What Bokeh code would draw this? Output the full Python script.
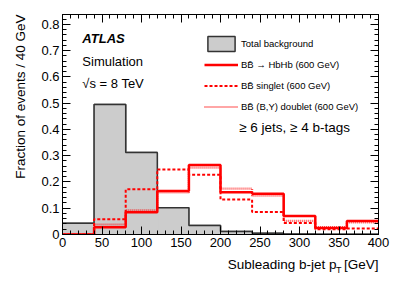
import math
from bokeh.plotting import figure
from bokeh.models import (Range1d, LinearAxis, SingleIntervalTicker, Label,
                          Legend, LegendItem, Title, ColumnDataSource,
                          CustomJSTickFormatter)
from bokeh.embed import file_html
from bokeh.resources import INLINE

# ---- data (fraction of events per 40 GeV bin) ----
bin_edges = [0, 40, 80, 120, 160, 200, 240, 280, 320, 360, 400]
background = [0.043, 0.495, 0.312, 0.102, 0.034, 0.011, 0.005, 0.002, 0.001, 0.001]
hbhb = [0.0, 0.028, 0.085, 0.166, 0.265, 0.161, 0.155, 0.070, 0.025, 0.051]
singlet = [0.0, 0.058, 0.172, 0.248, 0.228, 0.133, 0.086, 0.044, 0.020, 0.023]
doublet = [0.0, 0.038, 0.092, 0.160, 0.255, 0.175, 0.148, 0.052, 0.028, 0.046]

FONT = "Liberation Sans"

p = figure(width=391, height=278,
           x_range=Range1d(0, 400), y_range=Range1d(0, 0.838),
           output_backend="svg", toolbar_location=None,
           min_border_left=60, min_border_right=13,
           min_border_top=14, min_border_bottom=44)
p.grid.visible = False
p.outline_line_color = "black"
p.outline_line_width = 1
p.background_fill_color = "white"
p.border_fill_color = "white"

xt = SingleIntervalTicker(interval=50, num_minor_ticks=5)
yt = SingleIntervalTicker(interval=0.1, num_minor_ticks=5)

def style_axis(ax, ticker, labels=True):
    ax.ticker = ticker
    ax.major_tick_in = 8
    ax.major_tick_out = 0
    ax.minor_tick_in = 4
    ax.minor_tick_out = 0
    ax.axis_line_color = "black"
    ax.major_tick_line_color = "black"
    ax.minor_tick_line_color = "black"
    if labels:
        ax.major_label_text_font = FONT
        ax.major_label_text_font_size = "13px"
        ax.major_label_text_color = "black"
        ax.major_label_standoff = 3
    else:
        ax.formatter = CustomJSTickFormatter(code="return ''")
        ax.major_label_text_font_size = "1px"
        ax.major_label_standoff = 0
        ax.axis_label = None

style_axis(p.xaxis[0], xt)
style_axis(p.yaxis[0], yt)
p.yaxis[0].major_label_overrides = {0: "0"}

top_ax = LinearAxis()
right_ax = LinearAxis()
style_axis(top_ax, xt, labels=False)
style_axis(right_ax, yt, labels=False)
p.add_layout(top_ax, "above")
p.add_layout(right_ax, "right")

# ---- histograms ----
bg_src = ColumnDataSource(dict(left=bin_edges[:-1], right=bin_edges[1:],
                               top=background))
# outlined boxes underneath (also give the legend its bordered box)
bg_leg = p.quad(left="left", right="right", bottom=0, top="top", source=bg_src,
                fill_color="#cccccc", line_color="#333333", line_width=1.5)
# opaque fill on top hides the inner bin edges
p.quad(left="left", right="right", bottom=0, top="top", source=bg_src,
       fill_color="#cccccc", line_color="#cccccc", line_width=1.6)
p.step(x=bin_edges, y=background + [background[-1]], mode="after",
       line_color="#333333", line_width=1.5)

r_doub = p.step(x=bin_edges, y=doublet + [doublet[-1]], mode="after",
                line_color="#ff0000", line_alpha=0.7, line_width=2.2,
                line_dash="1 1")
r_sing = p.step(x=bin_edges, y=singlet + [singlet[-1]], mode="after",
                line_color="#ff0000", line_width=2, line_dash="3 2")
r_hbhb = p.step(x=bin_edges, y=hbhb + [hbhb[-1]], mode="after",
                line_color="#ff0000", line_width=2.5)

# ---- legend ----
legend = Legend(items=[
    LegendItem(label="Total background", renderers=[bg_leg]),
    LegendItem(label="BB\u0304 \u2192 HbHb (600 GeV)", renderers=[r_hbhb]),
    LegendItem(label="BB\u0304 singlet (600 GeV)", renderers=[r_sing]),
    LegendItem(label="BB\u0304 (B,Y) doublet (600 GeV)", renderers=[r_doub]),
], location=(142, 118), orientation="vertical",
    glyph_width=34, glyph_height=19, label_height=19, spacing=2,
    label_standoff=3, padding=0, margin=0,
    border_line_color=None, background_fill_alpha=0,
    label_text_font=FONT, label_text_font_size="9.5px",
    label_text_color="black")
p.add_layout(legend)

# ---- texts ----
def add_label(x, y, text, size="13px", style="normal", align="left",
              baseline="middle", angle=0.0):
    p.add_layout(Label(x=x, y=y, text=text, text_font=FONT,
                       text_font_size=size, text_font_style=style,
                       text_align=align, text_baseline=baseline,
                       text_color="black", angle=angle))

add_label(25.1, 0.748, "ATLAS", style="bold italic")
add_label(25.1, 0.659, "Simulation")
add_label(25.1, 0.575, "\u221as = 8 TeV")
add_label(223.6, 0.409, "\u2265 6 jets, \u2265 4 b-tags", size="13.5px")

# axis titles
xtitle = Title(text="Subleading b-jet p\u00a0\u00a0[GeV]", align="right",
               text_font=FONT, text_font_size="13.5px", text_color="black",
               text_font_style="normal", standoff=10)
p.add_layout(xtitle, "below")
# subscript T of p_T (kept in a side panel so it is not clipped to the frame)
sub_t = Label(x=346.3, y=-0.137, text="T", text_font=FONT,
              text_font_size="9px", text_color="black",
              text_align="left", text_baseline="middle")
p.add_layout(sub_t, "above")
ytitle = Title(text="Fraction of events / 40 GeV", align="right",
               text_font=FONT, text_font_size="13.5px", text_color="black",
               text_font_style="normal", standoff=21)
p.add_layout(ytitle, "left")

open("out.html", "w").write(file_html(p, INLINE))
